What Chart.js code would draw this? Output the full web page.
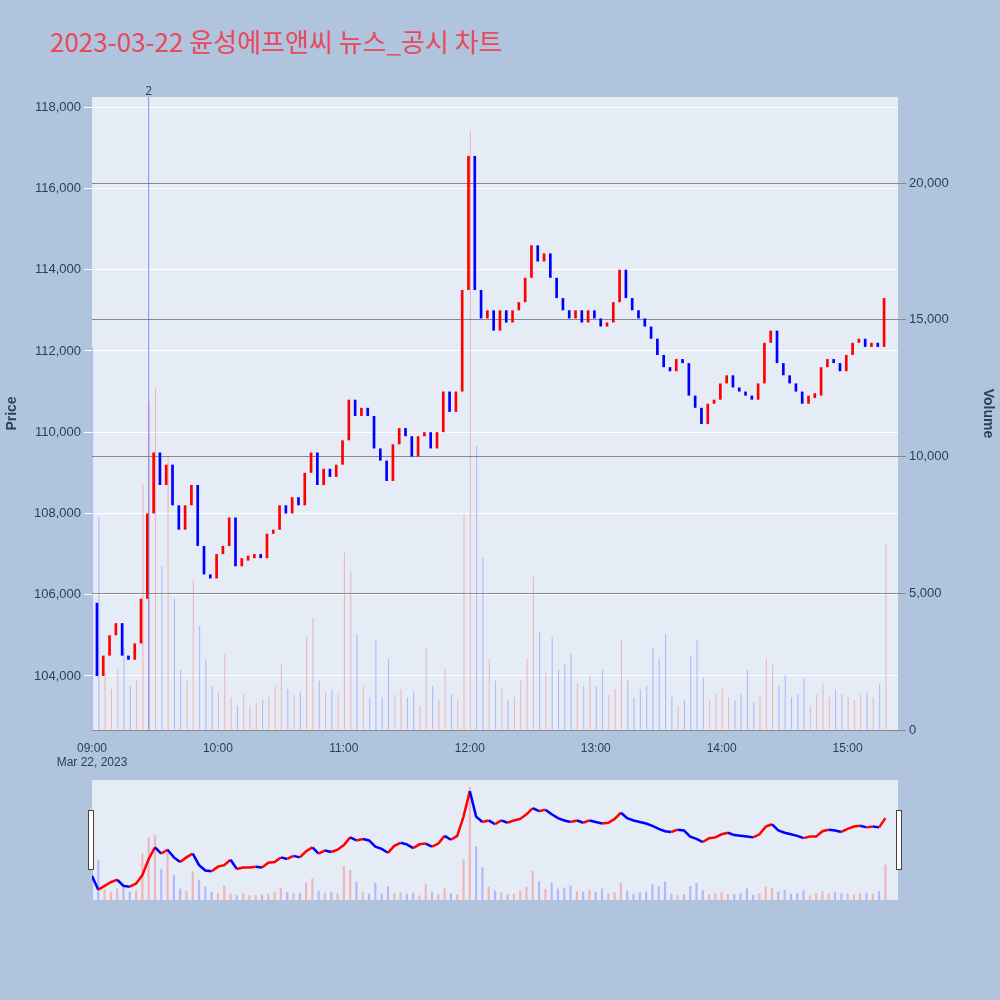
<!DOCTYPE html>
<html><head><meta charset="utf-8">
<script src="https://cdn.jsdelivr.net/npm/chart.js@4"></script>
<style>
body{margin:0;background:#b0c4de;width:1000px;height:1000px;position:relative;overflow:hidden;font-family:"Open Sans","Noto Sans CJK KR",sans-serif}
#title{position:absolute;left:50px;top:22px;font-size:26px;color:#e8495c;font-family:"Noto Sans CJK KR","Open Sans",sans-serif}
#main{position:absolute;left:0;top:80px}
#nav{position:absolute;left:92px;top:780px}
.h{position:absolute;top:810px;width:4px;height:58px;background:#fff;border:1px solid #444}
</style></head><body>
<div id="title">2023-03-22 윤성에프앤씨 뉴스_공시 차트</div>
<canvas id="main" width="1000" height="690"></canvas>
<canvas id="nav" width="806" height="120"></canvas>
<div class="h" style="left:88px"></div><div class="h" style="left:896px"></div>
<script>
// 3-minute bars, 09:00 - 15:18 (axis runs on to 15:24)
const times = [];
for (let h = 9; h <= 15; h++) for (let m = 0; m < 60; m += 3) { if (h === 15 && m > 24) break; times.push(String(h).padStart(2,'0') + ':' + String(m).padStart(2,'0')); }

const closes = [105800,104000,104500,105000,105300,104500,104400,104800,105900,108000,
109500,108700,109200,108200,107600,108200,108700,107200,106500,106400,
107000,107200,107900,106700,106900,106900,107000,106900,107500,107600,
108200,108000,108400,108200,109000,109500,108700,109100,108900,109200,
109800,110800,110400,110600,110400,109600,109300,108800,109700,110100,
109900,109400,109900,110000,109600,110000,111000,110500,111000,113500,
116800,113500,112800,113000,112500,113000,112700,113000,113200,113800,
114600,114200,114400,113800,113300,113000,112800,113000,112700,113000,
112800,112600,112700,113200,114000,113300,113000,112800,112600,112300,
111900,111600,111500,111800,111700,110900,110600,110200,110700,110800,
111200,111400,111100,111000,110900,110800,111200,112200,112500,111700,
111400,111200,111000,110700,110900,110900,111600,111800,111700,111500,
111900,112200,112300,112100,112200,112100,113300];
const opens = [106200].concat(closes.slice(0, -1));
const volumes = [14000,7800,2000,1500,2200,3000,1600,1800,9000,12000,
12500,6000,10000,4800,2200,1800,5500,3800,2600,1600,
1400,2800,1200,900,1300,900,1000,1100,1200,1600,
2400,1500,1300,1400,3400,4100,1800,1400,1500,1300,
6500,5800,3500,1600,1200,3300,1200,2600,1300,1500,
1200,1400,900,3000,1600,1100,2200,1300,1100,7900,
21900,10400,6300,2600,1800,1500,1100,1200,1800,2600,
5600,3600,2100,3400,2200,2400,2800,1700,1600,2000,
1600,2200,1300,1500,3300,1800,1200,1500,1600,3000,
2600,3500,1200,900,1100,2700,3300,1900,1100,1300,
1500,1200,1100,1300,2200,1000,1300,2600,2400,1600,
2000,1200,1300,1900,900,1300,1700,1200,1500,1300,
1200,1100,1300,1400,1200,1700,6800];
const priceTicks = [104000,106000,108000,110000,112000,114000,116000,118000];
const volumeTicks = [0,5000,10000,15000,20000];
const tickHours = ['09:00','10:00','11:00','12:00','13:00','14:00','15:00'];
const newsMarks = [{time: '09:27', label: '2'}];

const up = closes.map((c, i) => c >= opens[i]);
const bodyData = closes.map((c, i) => c === opens[i] ? [c - 60, c + 60] : [opens[i], c]);

const bgPlugin = {
  id: 'bg',
  beforeDraw(chart) {
    const a = chart.chartArea, ctx = chart.ctx;
    ctx.save(); ctx.fillStyle = '#e5ecf6';
    ctx.fillRect(a.left, a.top, a.right - a.left, a.bottom - a.top); ctx.restore();
  }
};
const markPlugin = {
  id: 'marks',
  afterDatasetsDraw(chart) {
    const ctx = chart.ctx, a = chart.chartArea, x = chart.scales.x;
    newsMarks.forEach(n => {
      const px = x.getPixelForValue(times.indexOf(n.time));
      ctx.save(); ctx.strokeStyle = 'rgba(90,110,240,0.7)'; ctx.lineWidth = 1;
      ctx.beginPath(); ctx.moveTo(px, a.top); ctx.lineTo(px, a.bottom); ctx.stroke();
      ctx.fillStyle = '#2a3f5f'; ctx.font = '12px "Open Sans"'; ctx.textAlign = 'center';
      ctx.fillText(n.label, px, a.top - 2); ctx.restore();
    });
  }
};
const fixTicks = list => s => { s.ticks = list.map(v => ({value: v})); };

new Chart(document.getElementById('main'), {
  type: 'bar',
  data: {
    labels: times,
    datasets: [{
      data: bodyData, yAxisID: 'y', order: 1,
      backgroundColor: up.map(u => u ? '#ff0000' : '#0000ff'),
      barPercentage: 1, categoryPercentage: 0.85
    }, {
      data: volumes, yAxisID: 'y2', order: 2,
      backgroundColor: up.map(u => u ? 'rgba(255,80,80,0.35)' : 'rgba(90,90,255,0.35)'),
      barPercentage: 1, categoryPercentage: 0.35
    }]
  },
  options: {
    responsive: false, animation: false,
    layout: {padding: {top: 17}},
    plugins: {legend: {display: false}, tooltip: {enabled: false}},
    scales: {
      x: {
        offset: false,
        grid: {display: false, offset: false}, border: {display: false},
        afterFit: s => { s.height = 40; },
        ticks: {
          autoSkip: false, maxRotation: 0, color: '#2a3f5f', font: {size: 12},
          callback: function(v) {
            const t = times[v];
            if (!tickHours.includes(t)) return null;
            return t === '09:00' ? ['09:00', 'Mar 22, 2023'] : t;
          }
        }
      },
      y: {
        position: 'left', min: 102670, max: 118250,
        afterBuildTicks: fixTicks(priceTicks),
        afterFit: s => { s.width = 92; },
        grid: {color: '#ffffff'}, border: {display: false},
        ticks: {color: '#2a3f5f', font: {size: 13}, callback: v => v.toLocaleString('en-US')},
        title: {display: true, text: 'Price', color: '#2a3f5f', font: {size: 14, weight: 'bold'}}
      },
      y2: {
        position: 'right', min: 0, max: 23150,
        afterBuildTicks: fixTicks(volumeTicks),
        afterFit: s => { s.width = 102; },
        grid: {color: '#888888'}, border: {display: false},
        ticks: {color: '#2a3f5f', font: {size: 13}, callback: v => v.toLocaleString('en-US')},
        title: {display: true, text: 'Volume', color: '#2a3f5f', font: {size: 14, weight: 'bold'}}
      }
    }
  },
  plugins: [bgPlugin, markPlugin]
});

new Chart(document.getElementById('nav'), {
  type: 'bar',
  data: {
    labels: times,
    datasets: [{
      type: 'line', data: closes, yAxisID: 'y', order: 1,
      borderColor: '#3030e0', borderWidth: 2.5, pointRadius: 0,
      segment: {borderColor: c => closes[c.p1DataIndex] >= closes[c.p0DataIndex] ? '#ff0000' : '#0000ff'}
    }, {
      data: volumes, yAxisID: 'y2', order: 2,
      backgroundColor: up.map(u => u ? 'rgba(255,80,80,0.35)' : 'rgba(90,90,255,0.35)'),
      barPercentage: 1, categoryPercentage: 0.35
    }]
  },
  options: {
    responsive: false, animation: false,
    plugins: {legend: {display: false}, tooltip: {enabled: false}},
    scales: {
      x: {display: false, offset: false},
      y: {display: false, min: 102670, max: 118250},
      y2: {display: false, min: 0, max: 23150}
    }
  },
  plugins: [bgPlugin]
});
</script>
</body></html>
